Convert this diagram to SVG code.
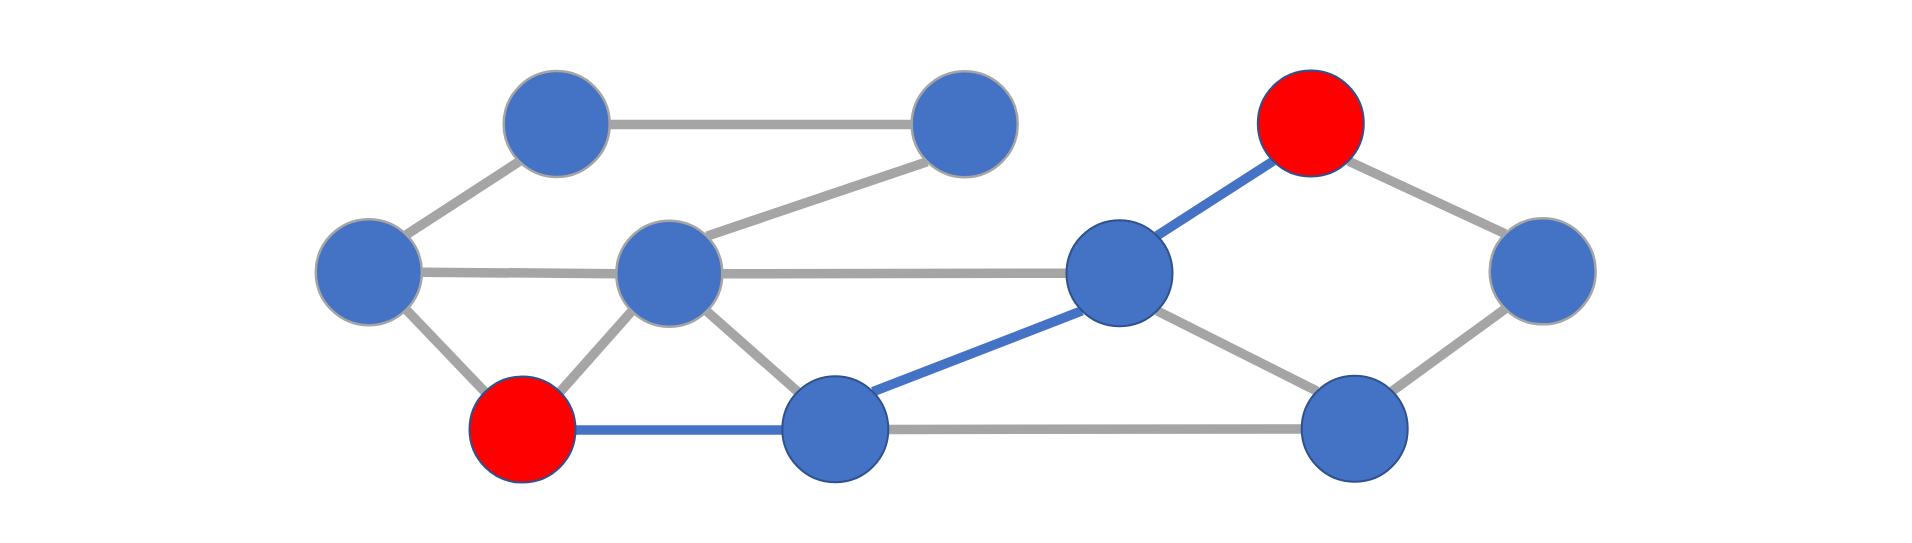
<svg xmlns="http://www.w3.org/2000/svg" width="1912" height="543" viewBox="0 0 1912 543">
<style>
.e{stroke-width:9.5;stroke-linecap:butt;fill:none}
.g{stroke:#a5a5a5}
.b{stroke:#4472c4}
.n{fill:#4472c4;stroke:#a5a5a5;stroke-width:2.5}
.nd{fill:#4472c4;stroke:#2f528f;stroke-width:2}
.r{fill:#ff0000;stroke:#2f528f;stroke-width:2}
</style>
<rect width="1912" height="543" fill="#ffffff"/>
<g id="edges">
<line class="e g" x1="609.7" y1="124.5" x2="911.7" y2="124.5"/>
<line class="e g" x1="519.2" y1="161.5" x2="406.3" y2="234.7"/>
<line class="e g" x1="927.2" y1="161.7" x2="706.8" y2="236.2"/>
<line class="e g" x1="421.8" y1="272.2" x2="616.3" y2="273.7"/>
<line class="e g" x1="722.3" y1="273.7" x2="1066.5" y2="273.3"/>
<line class="e g" x1="406.3" y1="309.7" x2="485" y2="392"/>
<line class="e g" x1="631.8" y1="311.2" x2="560" y2="392"/>
<line class="e g" x1="706.8" y1="311.2" x2="797.8" y2="391.7"/>
<line class="e b" x1="575.5" y1="430" x2="782.3" y2="430"/>
<line class="e b" x1="872.8" y1="391.7" x2="1082" y2="310.8"/>
<line class="e g" x1="888.3" y1="429.4" x2="1301.7" y2="428.9"/>
<line class="e g" x1="1157" y1="310.8" x2="1317.2" y2="391.2"/>
<line class="e b" x1="1157" y1="235.8" x2="1273.3" y2="161"/>
<line class="e g" x1="1348.3" y1="161" x2="1505.2" y2="233.8"/>
<line class="e g" x1="1505.2" y1="308.8" x2="1392.2" y2="391.2"/>
</g>
<g id="nA"><circle class="n" cx="556.7" cy="124" r="53"/></g>
<g id="nB"><circle class="n" cx="964.7" cy="124.2" r="53"/></g>
<g id="nC"><circle class="n" cx="368.8" cy="272.2" r="53"/></g>
<g id="nD"><circle class="n" cx="669.3" cy="273.7" r="53"/></g>
<g id="nE"><circle class="nd" cx="1119.5" cy="273.3" r="53"/></g>
<g id="nF"><circle class="r" cx="1310.8" cy="123.5" r="53"/></g>
<g id="nG"><circle class="n" cx="1542.7" cy="271.3" r="53"/></g>
<g id="nH"><circle class="r" cx="522.5" cy="429.5" r="53"/></g>
<g id="nI"><circle class="nd" cx="835.3" cy="429.2" r="53"/></g>
<g id="nJ"><circle class="nd" cx="1354.7" cy="428.7" r="53"/></g>
</svg>
